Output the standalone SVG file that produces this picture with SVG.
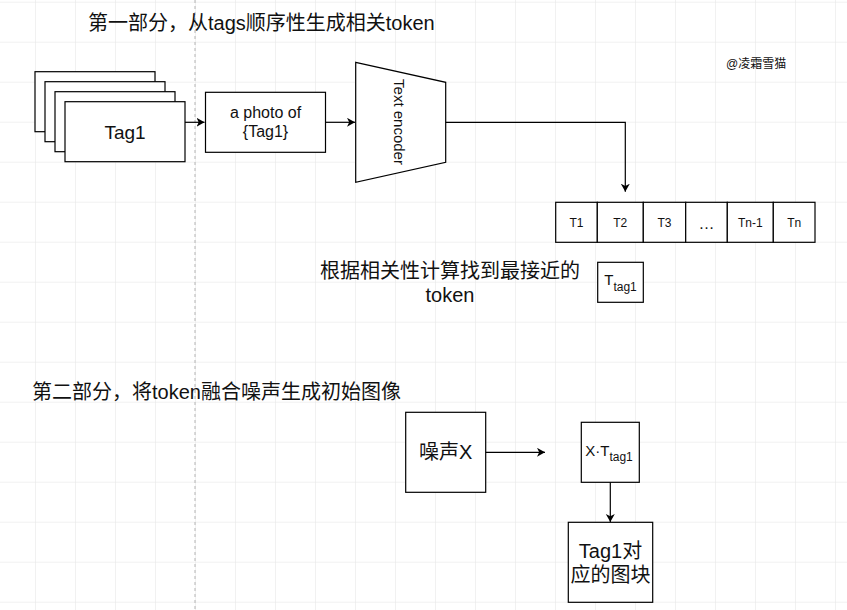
<svg xmlns="http://www.w3.org/2000/svg" width="847" height="610" viewBox="0 0 847 610">
<defs>
  <pattern id="grid" patternUnits="userSpaceOnUse" x="35" y="1.7" width="40" height="40">
    <path d="M0,0 H40 M0,0 V40" fill="none" stroke="#e3e3e3" stroke-width="1"/>
  </pattern>
  <marker id="arr" markerUnits="userSpaceOnUse" markerWidth="10" markerHeight="10" refX="8" refY="4.5" orient="auto">
    <path d="M0,0 L8,4.5 L0,9 L2.2,4.5 Z" fill="#000"/>
  </marker>
  <style>
    .box{fill:#fff;stroke:#000;stroke-width:1.2}
    .t{font-family:"Liberation Sans","Noto Sans CJK SC",sans-serif;fill:#111}
    .cjk{font-family:"Liberation Sans","Noto Sans CJK SC",sans-serif;fill:#111}
    .conn{fill:none;stroke:#000;stroke-width:1.2}
  </style>
</defs>
<rect width="847" height="610" fill="#fff"/>
<rect width="847" height="610" fill="url(#grid)"/>
<line x1="195" y1="0" x2="195" y2="610" stroke="#b5b5b5" stroke-width="1" stroke-dasharray="3,3"/>

<text class="cjk" x="88" y="29.5" font-size="20">第一部分，从tags顺序性生成相关token</text>
<text class="cjk" x="32" y="399" font-size="20">第二部分，将token融合噪声生成初始图像</text>
<text class="cjk" x="726" y="68" font-size="12">@凌霜雪猫</text>

<g id="tags">
  <rect class="box" x="35" y="71.7" width="120" height="60"/>
  <rect class="box" x="45" y="81.7" width="120" height="60"/>
  <rect class="box" x="55" y="91.7" width="120" height="60"/>
  <rect class="box" x="65" y="101.7" width="120" height="60"/>
  <text class="t" x="125" y="138.5" font-size="19" text-anchor="middle">Tag1</text>
</g>

<g id="prompt">
  <rect class="box" x="205.5" y="92.3" width="120" height="60"/>
  <text class="t" x="265.5" y="118" font-size="16" text-anchor="middle">a photo of</text>
  <text class="t" x="265.5" y="137" font-size="16" text-anchor="middle">{Tag1}</text>
</g>

<g id="encoder">
  <polygon class="box" points="355.7,62.3 445.7,82.3 445.7,162.3 355.7,182.3"/>
  <text class="t" transform="translate(399,122) rotate(90)" font-size="15" text-anchor="middle" dominant-baseline="central">Text encoder</text>
</g>

<g id="tokens">
  <rect class="box" x="555.7" y="202.3" width="41.6" height="40"/>
  <rect class="box" x="597.3" y="202.3" width="46" height="40"/>
  <rect class="box" x="643.3" y="202.3" width="42.4" height="40"/>
  <rect class="box" x="685.7" y="202.3" width="41.6" height="40"/>
  <rect class="box" x="727.3" y="202.3" width="46" height="40"/>
  <rect class="box" x="773.3" y="202.3" width="41.7" height="40"/>
  <text class="t" font-size="12" text-anchor="middle" y="226.5">
    <tspan x="576.5">T1</tspan><tspan x="620.3">T2</tspan><tspan x="664.5">T3</tspan><tspan x="750.3">Tn-1</tspan><tspan x="794.2">Tn</tspan>
  </text>
  <text class="t" x="706.5" y="229" font-size="16" text-anchor="middle">…</text>
</g>

<g id="match-label">
  <text class="cjk" x="450" y="278" font-size="20" text-anchor="middle">根据相关性计算找到最接近的</text>
  <text class="cjk" x="450" y="302" font-size="20" text-anchor="middle">token</text>
</g>

<g id="ttag1">
  <rect class="box" x="597.7" y="262.3" width="45.6" height="40"/>
  <text class="t" x="620.5" y="285" text-anchor="middle"><tspan font-size="15">T</tspan><tspan font-size="12" dy="6">tag1</tspan></text>
</g>

<g id="noise">
  <rect class="box" x="405.7" y="412.3" width="80" height="80"/>
  <text class="cjk" x="445.7" y="459" font-size="20" text-anchor="middle">噪声X</text>
</g>

<g id="product">
  <rect class="box" x="581.3" y="422.3" width="58" height="60"/>
  <text class="t" x="609" y="456" text-anchor="middle"><tspan font-size="15">X·T</tspan><tspan font-size="12" dy="5">tag1</tspan></text>
</g>

<g id="patch">
  <rect class="box" x="568.3" y="522.3" width="84.4" height="80"/>
  <text class="cjk" x="610.5" y="558" font-size="20" text-anchor="middle">Tag1对</text>
  <text class="cjk" x="610.5" y="582" font-size="20" text-anchor="middle">应的图块</text>
</g>

<g id="connectors">
  <line class="conn" x1="185" y1="122.3" x2="204.5" y2="122.3" marker-end="url(#arr)"/>
  <line class="conn" x1="325.5" y1="122.3" x2="355" y2="122.3" marker-end="url(#arr)"/>
  <polyline class="conn" points="445.7,122.3 625.3,122.3 625.3,191.7" marker-end="url(#arr)"/>
  <line class="conn" x1="485.7" y1="452.3" x2="545" y2="452.3" marker-end="url(#arr)"/>
  <line class="conn" x1="610.3" y1="482.3" x2="610.3" y2="522" marker-end="url(#arr)"/>
</g>
</svg>
